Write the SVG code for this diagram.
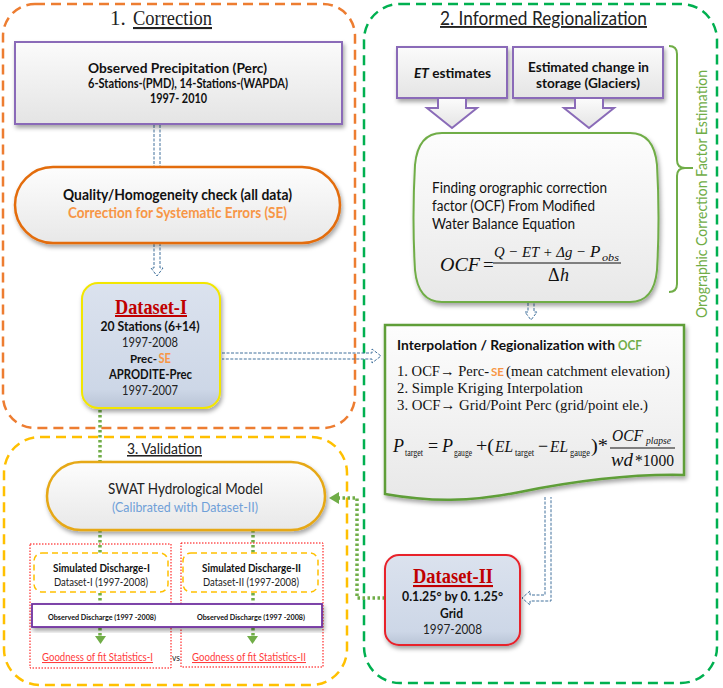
<svg xmlns="http://www.w3.org/2000/svg" width="723" height="688" viewBox="0 0 723 688">
<defs>
<style>
.sans{font-family:Lato,"Open Sans","Liberation Sans",sans-serif}
.serif{font-family:"Liberation Serif","DejaVu Serif",serif}
.b{font-weight:bold}
.i{font-style:italic}
.c{text-anchor:middle}
.grp{fill:none;stroke-width:2.5;stroke-dasharray:10 6}
.blue{fill:none;stroke:#41719c;stroke-width:1;stroke-dasharray:3 1.5}
.gdot{fill:none;stroke:#70ad47;stroke-width:3.5;stroke-dasharray:2.5 2.5}
.purple{stroke:#8a6bb8;stroke-width:2}
.ds{fill:url(#dsGrad)}
.eq{font-family:"Liberation Serif","DejaVu Serif",serif;fill:#111}
</style>
<linearGradient id="grayGrad" x1="0" y1="0" x2="0" y2="1">
<stop offset="0" stop-color="#fbfbfb"/><stop offset="1" stop-color="#e4e4e4"/>
</linearGradient>
<linearGradient id="stadGrad" x1="0" y1="0" x2="0" y2="1">
<stop offset="0" stop-color="#fdfdfd"/><stop offset="1" stop-color="#e8e8e8"/>
</linearGradient>
<linearGradient id="dsGrad" x1="0" y1="0" x2="0" y2="1">
<stop offset="0" stop-color="#dbe2ee"/><stop offset="0.85" stop-color="#cdd7e7"/><stop offset="1" stop-color="#b9c4d6"/>
</linearGradient>
<filter id="sh" x="-10%" y="-10%" width="125%" height="135%">
<feDropShadow dx="1.5" dy="3" stdDeviation="2" flood-color="#000" flood-opacity="0.35"/>
</filter>
</defs>

<!-- group frames -->
<g id="frames">
<rect x="3" y="4" width="352" height="424" rx="32" class="grp" stroke="#ed7d31"/>
<rect x="364" y="4" width="353" height="679" rx="36" class="grp" stroke="#00b050"/>
<rect x="4" y="437" width="343" height="248" rx="36" class="grp" stroke="#ffc000"/>
</g>

<!-- titles -->
<g id="titles">
<text x="110" y="25" class="serif" font-size="21" fill="#222">1.</text>
<text x="133" y="25" class="serif" font-size="21" fill="#222" text-decoration="underline" textLength="79" lengthAdjust="spacingAndGlyphs">Correction</text>
<text x="543.5" y="25" class="sans c" font-size="19" fill="#222" text-decoration="underline" textLength="207" lengthAdjust="spacingAndGlyphs">2. Informed Regionalization</text>
<text x="164.5" y="454" class="sans c" font-size="15.5" fill="#222" text-decoration="underline" textLength="75" lengthAdjust="spacingAndGlyphs">3. Validation</text>
</g>

<!-- connectors -->
<g id="connectors">
<path class="blue" d="M154,125 V166 M160,125 V166"/>
<path class="blue" d="M154,244 V268 H151 L157,276 L163,268 H160 V244"/>
<path class="blue" d="M222,353 H372 V349 L381,356 L372,363 V359 H222"/>
<path class="blue" d="M528,303 V312 H525 L531,320 L537,312 H534 V303"/>
<path class="blue" d="M545,497 V595 H530 V591 L522,598 L530,605 V601 H551 V497"/>
<path class="gdot" d="M100,410 V462"/>
<path class="gdot" d="M385,598 H357 V498 H338"/>
<polygon points="339,492 329,498 339,504" fill="#70ad47"/>
<path class="gdot" d="M100,530 V553 M253,530 V553 M100,593 V636 M253,593 V636"/>
<polygon points="95,636 106,636 100.5,644" fill="#70ad47"/>
<polygon points="247,636 258,636 252.5,644" fill="#70ad47"/>
</g>

<!-- Correction column -->
<g id="observed-precip">
<rect x="15" y="42" width="327" height="82" fill="url(#grayGrad)" class="purple" filter="url(#sh)"/>
<text x="177.5" y="73" class="sans b c" font-size="14" fill="#111" textLength="179" lengthAdjust="spacingAndGlyphs">Observed Precipitation (Perc)</text>
<text x="188" y="88" class="sans b c" font-size="12.5" fill="#111" textLength="200" lengthAdjust="spacingAndGlyphs">6-Stations-(PMD), 14-Stations-(WAPDA)</text>
<text x="178.5" y="103" class="sans b c" font-size="12.5" fill="#111" textLength="57" lengthAdjust="spacingAndGlyphs">1997- 2010</text>
</g>

<g id="quality-check">
<rect x="15" y="167" width="325" height="76" rx="38" fill="url(#stadGrad)" stroke="#e36c09" stroke-width="2.5" filter="url(#sh)"/>
<text x="177.5" y="200" class="sans b c" font-size="14.5" fill="#111" textLength="229" lengthAdjust="spacingAndGlyphs">Quality/Homogeneity check (all data)</text>
<text x="177.5" y="218" class="sans b c" font-size="14.5" fill="#f79646" textLength="219" lengthAdjust="spacingAndGlyphs">Correction for Systematic Errors (SE)</text>
</g>

<g id="dataset-1">
<rect x="82" y="283" width="138" height="125" rx="16" class="ds" stroke="#f2e600" stroke-width="2" filter="url(#sh)"/>
<text x="151" y="314" class="serif b c" font-size="20" fill="#c00000" text-decoration="underline" textLength="72" lengthAdjust="spacingAndGlyphs">Dataset-I</text>
<text x="150" y="331" class="sans b c" font-size="13" fill="#111" textLength="99" lengthAdjust="spacingAndGlyphs">20 Stations (6+14)</text>
<text x="150" y="347" class="sans c" font-size="13" fill="#222" textLength="56" lengthAdjust="spacingAndGlyphs">1997-2008</text>
<text x="130" y="363" class="sans b" font-size="11.5" fill="#111" textLength="27" lengthAdjust="spacingAndGlyphs">Prec-</text>
<text x="158.5" y="363" class="sans b" font-size="12.5" fill="#f79646" textLength="12.5" lengthAdjust="spacingAndGlyphs">SE</text>
<text x="150.5" y="379" class="sans b c" font-size="13" fill="#111" textLength="83" lengthAdjust="spacingAndGlyphs">APRODITE-Prec</text>
<text x="150" y="395" class="sans c" font-size="13" fill="#222" textLength="56" lengthAdjust="spacingAndGlyphs">1997-2007</text>
</g>

<!-- Regionalization column -->
<g id="et-estimates">
<rect x="397" y="47" width="110" height="51" fill="url(#grayGrad)" class="purple" filter="url(#sh)"/>
<text x="452.5" y="78" class="sans b c" font-size="14" fill="#111" textLength="77" lengthAdjust="spacingAndGlyphs"><tspan font-style="italic">ET</tspan> estimates</text>
<path d="M438,99 V108 H427 L452,128 L477,108 H466 V99" fill="url(#grayGrad)" class="purple"/>
</g>

<g id="storage-change">
<rect x="513" y="47" width="150" height="51" fill="url(#grayGrad)" class="purple" filter="url(#sh)"/>
<text x="588.5" y="72" class="sans b c" font-size="14" fill="#111" textLength="121" lengthAdjust="spacingAndGlyphs">Estimated change in</text>
<text x="588" y="88" class="sans b c" font-size="14" fill="#111" textLength="104" lengthAdjust="spacingAndGlyphs">storage (Glaciers)</text>
<path d="M575,99 V108 H564 L589,128 L614,108 H603 V99" fill="url(#grayGrad)" class="purple"/>
</g>

<g id="ocf-estimation-bracket">
<path d="M669,46 Q677,46 677,54 V160 Q677,168 685,168 H693 M685,168 Q677,168 677,176 V284 Q677,292 669,292" fill="none" stroke="#70ad47" stroke-width="2"/>
<text transform="translate(707,194) rotate(-90)" class="sans c" font-size="15" fill="#70ad47" textLength="248" lengthAdjust="spacingAndGlyphs">Orographic Correction Factor Estimation</text>
</g>

<g id="ocf-equation">
<path d="M442,133 H630 Q654,133 657,165 Q660,218 657,270 Q654,302 630,302 H442 Q418,302 415,270 Q412,218 415,165 Q418,133 442,133 Z" fill="url(#stadGrad)" stroke="#70ad47" stroke-width="2" filter="url(#sh)"/>
<text x="432" y="193" class="sans" font-size="14.5" fill="#111" textLength="175" lengthAdjust="spacingAndGlyphs">Finding orographic correction</text>
<text x="432" y="211" class="sans" font-size="14.5" fill="#111" textLength="163" lengthAdjust="spacingAndGlyphs">factor (OCF) From Modified</text>
<text x="432" y="229" class="sans" font-size="14.5" fill="#111" textLength="143" lengthAdjust="spacingAndGlyphs">Water Balance Equation</text>
<text x="440" y="271" class="eq i" font-size="19.5" textLength="40" lengthAdjust="spacingAndGlyphs">OCF</text>
<text x="483" y="271" class="eq" font-size="19">=</text>
<text x="494" y="257" class="eq i" font-size="15.5" textLength="92" lengthAdjust="spacingAndGlyphs">Q − ET + Δg −</text>
<text x="590" y="257" class="eq i" font-size="17">P</text>
<text x="602" y="261" class="eq i" font-size="10.5" textLength="17" lengthAdjust="spacingAndGlyphs">obs</text>
<line x1="493" y1="263" x2="621" y2="263" stroke="#111" stroke-width="1"/>
<text x="548" y="281" class="eq" font-size="18">Δ</text>
<text x="560" y="281" class="eq i" font-size="18">h</text>
</g>

<g id="interpolation">
<path d="M385,325 H684 V475 C640,474 580,480 520,492 C470,502 430,502 385,494 Z" fill="url(#stadGrad)" stroke="#5e9e38" stroke-width="2.5" filter="url(#sh)"/>
<text x="397" y="350" class="sans b" font-size="14" fill="#111" textLength="218" lengthAdjust="spacingAndGlyphs">Interpolation / Regionalization with</text>
<text x="618" y="350" class="sans b" font-size="14" fill="#70ad47" textLength="24" lengthAdjust="spacingAndGlyphs">OCF</text>
<text x="397" y="376" class="serif" font-size="14.5" fill="#111" textLength="92" lengthAdjust="spacingAndGlyphs">1.  OCF→ Perc-</text>
<text x="491" y="376" class="sans b" font-size="12" fill="#f79646" textLength="13" lengthAdjust="spacingAndGlyphs">SE</text>
<text x="506" y="376" class="serif" font-size="15.5" fill="#111" textLength="164" lengthAdjust="spacingAndGlyphs">(mean catchment elevation)</text>
<text x="397" y="393" class="serif" font-size="15.5" fill="#111" textLength="186" lengthAdjust="spacingAndGlyphs">2.  Simple Kriging Interpolation</text>
<text x="397" y="410" class="serif" font-size="15.5" fill="#111" textLength="251" lengthAdjust="spacingAndGlyphs">3.  OCF→ Grid/Point Perc (grid/point ele.)</text>
<text x="393" y="452" class="eq i" font-size="18">P</text>
<text x="405" y="456" class="eq" font-size="9.5" textLength="18" lengthAdjust="spacingAndGlyphs">target</text>
<text x="428" y="452" class="eq" font-size="18">=</text>
<text x="442" y="452" class="eq i" font-size="18">P</text>
<text x="454" y="456" class="eq" font-size="9.5" textLength="18" lengthAdjust="spacingAndGlyphs">gauge</text>
<text x="476" y="452" class="eq" font-size="18" textLength="18" lengthAdjust="spacingAndGlyphs">+(</text>
<text x="495" y="452" class="eq i" font-size="16.5" textLength="18" lengthAdjust="spacingAndGlyphs">EL</text>
<text x="515" y="456" class="eq" font-size="9.5" textLength="19" lengthAdjust="spacingAndGlyphs">target</text>
<text x="538" y="452" class="eq" font-size="18">−</text>
<text x="550" y="452" class="eq i" font-size="16.5" textLength="18" lengthAdjust="spacingAndGlyphs">EL</text>
<text x="570" y="456" class="eq" font-size="9.5" textLength="20" lengthAdjust="spacingAndGlyphs">gauge</text>
<text x="591" y="452" class="eq" font-size="18" textLength="17" lengthAdjust="spacingAndGlyphs">)*</text>
<text x="612" y="441" class="eq i" font-size="16.5" textLength="31" lengthAdjust="spacingAndGlyphs">OCF</text>
<text x="646" y="444" class="eq i" font-size="9.5" textLength="25" lengthAdjust="spacingAndGlyphs">plapse</text>
<line x1="610" y1="448" x2="675" y2="448" stroke="#111" stroke-width="1"/>
<text x="611" y="466" class="eq i" font-size="18" textLength="22" lengthAdjust="spacingAndGlyphs">wd</text>
<text x="635" y="466" class="eq" font-size="17.5" textLength="39" lengthAdjust="spacingAndGlyphs">*1000</text>
</g>

<g id="dataset-2">
<rect x="385" y="555" width="135" height="90" rx="14" class="ds" stroke="#e8202a" stroke-width="2" filter="url(#sh)"/>
<text x="453" y="583" class="serif b c" font-size="21" fill="#c00000" text-decoration="underline" textLength="80" lengthAdjust="spacingAndGlyphs">Dataset-II</text>
<text x="452.5" y="601" class="sans b c" font-size="12.5" fill="#111" textLength="101" lengthAdjust="spacingAndGlyphs">0.1.25° by 0. 1.25°</text>
<text x="451.5" y="618" class="sans b c" font-size="12.5" fill="#111" textLength="23" lengthAdjust="spacingAndGlyphs">Grid</text>
<text x="452.5" y="634" class="sans c" font-size="12.5" fill="#222" textLength="59" lengthAdjust="spacingAndGlyphs">1997-2008</text>
</g>

<!-- Validation column -->
<g id="swat-model">
<rect x="47" y="462" width="278" height="68" rx="34" fill="url(#stadGrad)" stroke="#e6a817" stroke-width="2.5" filter="url(#sh)"/>
<text x="185.5" y="494" class="sans c" font-size="16" fill="#222" textLength="155" lengthAdjust="spacingAndGlyphs">SWAT Hydrological Model</text>
<text x="185" y="512" class="sans c" font-size="13.5" fill="#6fa0d8" textLength="146" lengthAdjust="spacingAndGlyphs">(Calibrated with Dataset-II)</text>
</g>

<g id="stats-frame-1">
<rect x="30" y="544" width="141" height="124" fill="none" stroke="#ff0000" stroke-width="1" stroke-dasharray="1.5 1.5"/>
</g>
<g id="stats-frame-2">
<rect x="181" y="543" width="142" height="124" fill="none" stroke="#ff0000" stroke-width="1" stroke-dasharray="1.5 1.5"/>
</g>

<g id="sim-discharge-1">
<rect x="34" y="553" width="134" height="39" rx="8" fill="#fff" stroke="#ffc000" stroke-width="1.5" stroke-dasharray="6 4"/>
<text x="101.5" y="572" class="sans b c" font-size="11.5" fill="#111" textLength="97" lengthAdjust="spacingAndGlyphs">Simulated Discharge-I</text>
<text x="101" y="586" class="sans c" font-size="11.5" fill="#222" textLength="94" lengthAdjust="spacingAndGlyphs">Dataset-I (1997-2008)</text>
</g>
<g id="sim-discharge-2">
<rect x="183" y="553" width="135" height="39" rx="8" fill="#fff" stroke="#ffc000" stroke-width="1.5" stroke-dasharray="6 4"/>
<text x="251.5" y="572" class="sans b c" font-size="11.5" fill="#111" textLength="99" lengthAdjust="spacingAndGlyphs">Simulated Discharge-II</text>
<text x="251" y="586" class="sans c" font-size="11.5" fill="#222" textLength="96" lengthAdjust="spacingAndGlyphs">Dataset-II (1997-2008)</text>
</g>

<g id="observed-discharge">
<rect x="32" y="604" width="290" height="23" fill="#fff" stroke="#7030a0" stroke-width="1.8" filter="url(#sh)"/>
<text x="102" y="620" class="sans b c" font-size="8" fill="#111" textLength="108" lengthAdjust="spacingAndGlyphs">Observed Discharge (1997 -2008)</text>
<text x="251" y="620" class="sans b c" font-size="8" fill="#111" textLength="108" lengthAdjust="spacingAndGlyphs">Observed Discharge (1997 -2008)</text>
</g>

<g id="goodness-1">
<text x="97.5" y="661" class="sans c" font-size="10.5" fill="#ff3b3b" text-decoration="underline" textLength="111" lengthAdjust="spacingAndGlyphs">Goodness of fit Statistics-I</text>
</g>
<text x="176" y="661" class="sans c" font-size="8.5" fill="#222" textLength="8" lengthAdjust="spacingAndGlyphs">vs</text>
<g id="goodness-2">
<text x="249" y="661" class="sans c" font-size="10.5" fill="#ff3b3b" text-decoration="underline" textLength="114" lengthAdjust="spacingAndGlyphs">Goodness of fit Statistics-II</text>
</g>
</svg>
